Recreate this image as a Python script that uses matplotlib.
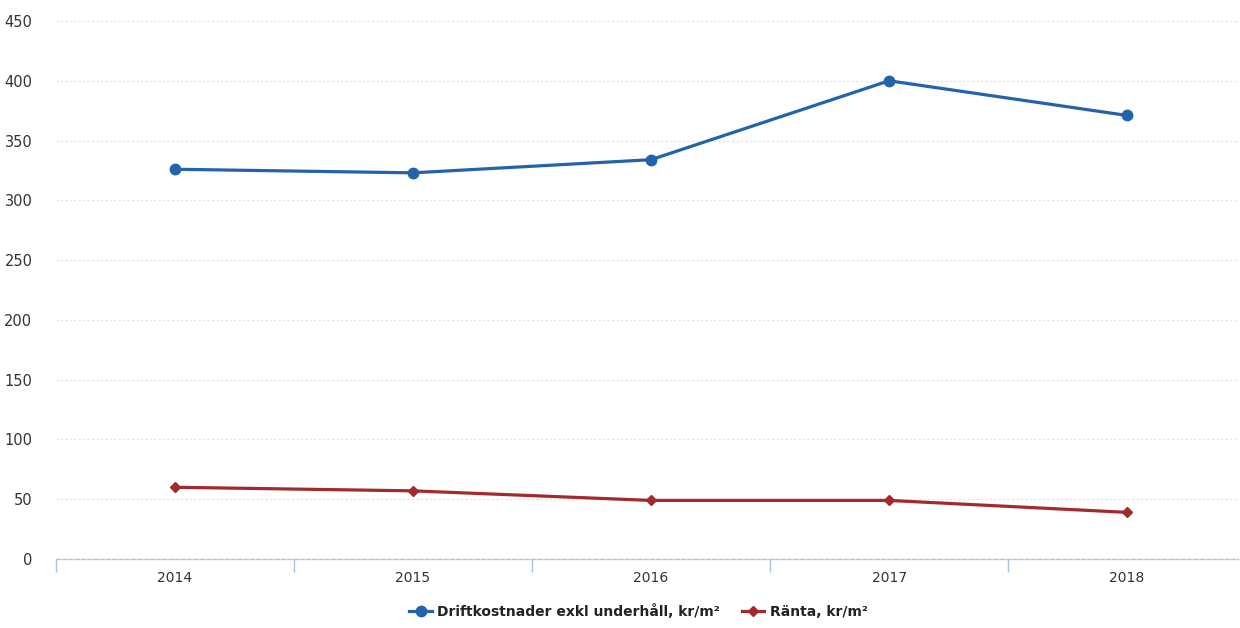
import matplotlib
matplotlib.use("Agg")
import matplotlib.pyplot as plt
from matplotlib.ticker import FixedLocator, NullFormatter

years = ["2014", "2015", "2016", "2017", "2018"]
drift = [326, 323, 334, 400, 371]
ranta = [60, 57, 49, 49, 39]
yticks = [0, 50, 100, 150, 200, 250, 300, 350, 400, 450]
label_drift = "Driftkostnader exkl underhåll, kr/m²"
label_ranta = "Ränta, kr/m²"

blue = "#2463aa"
red = "#a32a2c"

fig = plt.figure(figsize=(12.4, 6.28), dpi=100)
ax = fig.add_axes([56/1240, 69/628, (1238-56)/1240, (559-21)/628])
x = list(range(len(years)))
ax.plot(x, drift, color=blue, lw=2.3, marker="o", ms=7.5, label=label_drift, zorder=3)
ax.plot(x, ranta, color=red, lw=2.3, marker="D", ms=5, label=label_ranta, zorder=3)

ax.set_xlim(-0.5, 4.466)
ax.set_ylim(0, 450)
ax.set_yticks(yticks)
ax.set_xticks(x)
ax.set_xticklabels(years)
ax.xaxis.set_minor_locator(FixedLocator([-0.5, 0.5, 1.5, 2.5, 3.5]))
ax.xaxis.set_minor_formatter(NullFormatter())
ax.tick_params(axis="x", which="major", length=0, pad=9, labelsize=10, labelcolor="#333333")
ax.tick_params(axis="x", which="minor", length=9, color="#a8c4e0", width=1)
ax.tick_params(axis="y", length=0, pad=17, labelsize=10.5, labelcolor="#333333")
for lab in ax.get_yticklabels():
    lab.set_horizontalalignment("right")

ax.grid(axis="y", color="#dde2ea", linestyle=(0, (2, 2)), linewidth=0.8)
for s in ["top", "right", "left"]:
    ax.spines[s].set_visible(False)
ax.spines["bottom"].set_color("#a8c4e0")
ax.spines["bottom"].set_linestyle((0, (3, 1.5)))
ax.spines["bottom"].set_linewidth(1)

leg = fig.legend(loc="lower center", bbox_to_anchor=(0.515, -0.005), ncol=2, frameon=False,
                 prop={"size": 10, "weight": "bold"}, handlelength=1.6, columnspacing=1.6,
                 handletextpad=0.4)
for t in leg.get_texts():
    t.set_color("#222222")

fig.savefig("out.png", dpi=100)
